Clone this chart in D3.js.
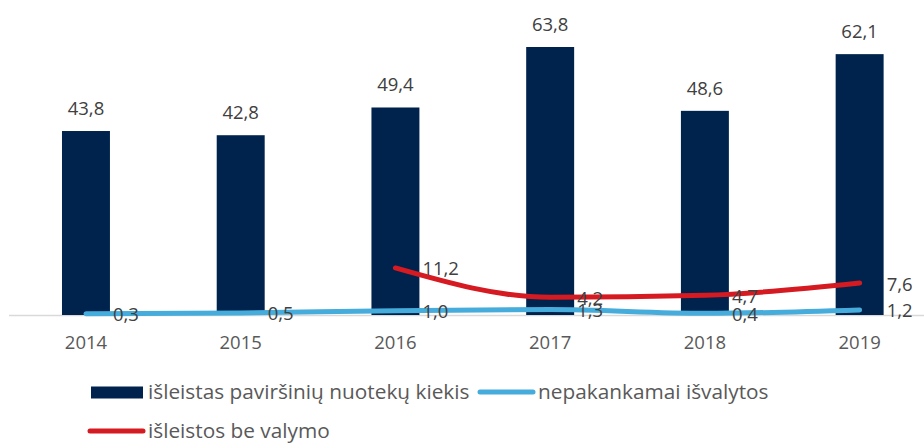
<!DOCTYPE html>
<html>
<meta charset="utf-8">
<head>
<script src="https://cdn.jsdelivr.net/npm/d3@7"></script>
<style>
  body { margin: 0; background: #fff; }
  text { font-family: "Open Sans", Roboto, sans-serif; fill: #595959; }
</style>
</head>
<body>
<div id="chart"></div>
<script>
// data
var years = ["2014", "2015", "2016", "2017", "2018", "2019"];
var isleistas = [43.8, 42.8, 49.4, 63.8, 48.6, 62.1];        // bars
var nepakankamai = [0.3, 0.5, 1.0, 1.3, 0.4, 1.2];           // blue line
var beValymo = [null, null, 11.2, 4.2, 4.7, 7.6];            // red line
var seriesNames = ["išleistas paviršinių nuotekų kiekis", "nepakankamai išvalytos", "išleistos be valymo"];

var W = 924, H = 444;
var navy = "#00234d", blue = "#45acdb", red = "#d51a21";
var fontSize = "18.5px";
var legendSize = "20.8px";

var svg = d3.select("#chart").append("svg")
    .attr("width", W)
    .attr("height", H);

var x = d3.scaleBand()
    .domain(years)
    .range([8.6, 937])
    .paddingInner(0.69)
    .paddingOuter(0.345);

var y = d3.scaleLinear()
    .domain([0, 63.8])
    .range([315, 47]);

var fmt = function(v) { return d3.format(".1f")(v).replace(".", ","); };
var cx = function(i) { return x(years[i]) + x.bandwidth() / 2; };

// axis line
svg.append("line")
    .attr("x1", 9).attr("x2", W)
    .attr("y1", y(0) + 0.5).attr("y2", y(0) + 0.5)
    .attr("stroke", "#d9d9d9")
    .attr("stroke-width", 1.5);

// bars
svg.selectAll("rect.bar")
    .data(isleistas)
    .enter()
    .append("rect")
    .attr("class", "bar")
    .attr("x", function(d, i) { return x(years[i]); })
    .attr("y", function(d) { return y(d); })
    .attr("width", x.bandwidth())
    .attr("height", function(d) { return y(0) - y(d); })
    .attr("fill", navy);

// x labels
var xAxis = d3.axisBottom(x).tickSize(0).tickPadding(0);
var gx = svg.append("g")
    .attr("transform", "translate(0," + (y(0) + 34) + ")")
    .call(xAxis);
gx.select(".domain").remove();
gx.selectAll("text")
    .attr("dy", 0)
    .style("font-size", fontSize)
    .style("font-family", "'Open Sans', sans-serif")
    .attr("fill", "#595959");

// lines
var toPts = function(arr) {
    return arr.map(function(v, i) { return { i: i, v: v }; })
        .filter(function(p) { return p.v != null; });
};
var line = d3.line()
    .x(function(p) { return cx(p.i); })
    .y(function(p) { return y(p.v); })
    .curve(d3.curveMonotoneX);

svg.append("path")
    .datum(toPts(nepakankamai))
    .attr("d", line)
    .attr("fill", "none")
    .attr("stroke", blue)
    .attr("stroke-width", 5)
    .attr("stroke-linecap", "round")
    .attr("stroke-linejoin", "round");

svg.append("path")
    .datum(toPts(beValymo))
    .attr("d", line)
    .attr("fill", "none")
    .attr("stroke", red)
    .attr("stroke-width", 5)
    .attr("stroke-linecap", "round")
    .attr("stroke-linejoin", "round");

// bar value labels
svg.selectAll("text.barlab")
    .data(isleistas)
    .enter()
    .append("text")
    .attr("class", "barlab")
    .attr("x", function(d, i) { return cx(i); })
    .attr("y", function(d) { return y(d) - 16; })
    .attr("text-anchor", "middle")
    .style("font-size", fontSize)
    .style("fill", "#404040")
    .text(fmt);

// line value labels (right of the point)
function pointLabels(data, cls) {
    svg.selectAll("text." + cls)
        .data(toPts(data))
        .enter()
        .append("text")
        .attr("class", cls)
        .attr("x", function(p) { return cx(p.i) + 27; })
        .attr("y", function(p) { return y(p.v) + 1; })
        .attr("dy", "0.35em")
        .style("font-size", fontSize)
        .style("fill", "#404040")
        .text(function(p) { return fmt(p.v); });
}
pointLabels(nepakankamai, "bluelab");
pointLabels(beValymo, "redlab");

// legend
var legend = svg.append("g").attr("class", "legend");
var items = [
    { name: seriesNames[0], type: "bar", color: navy, x: 91, y: 392 },
    { name: seriesNames[1], type: "line", color: blue, x: 478, y: 392 },
    { name: seriesNames[2], type: "line", color: red, x: 88, y: 431 }
];
items.forEach(function(it) {
    if (it.type == "bar") {
        legend.append("rect")
            .attr("x", it.x).attr("y", it.y - 5.5)
            .attr("width", 52).attr("height", 12)
            .attr("fill", it.color);
    } else {
        legend.append("line")
            .attr("x1", it.x + 2).attr("x2", it.x + 55)
            .attr("y1", it.y).attr("y2", it.y)
            .attr("stroke", it.color)
            .attr("stroke-width", 5)
            .attr("stroke-linecap", "round");
    }
    legend.append("text")
        .attr("x", it.type == "bar" ? it.x + 57 : it.x + 60)
        .attr("y", it.y)
        .attr("dy", "0.35em")
        .style("font-size", legendSize)
        .text(it.name);
});
</script>
</body>
</html>
